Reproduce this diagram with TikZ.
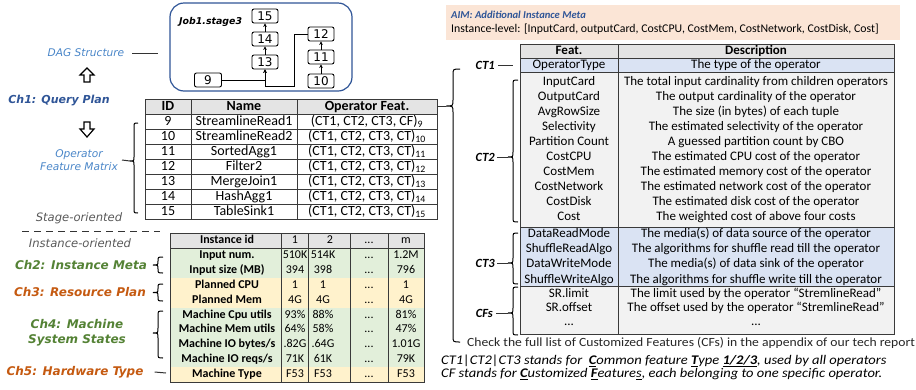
\documentclass[tikz,border=0pt]{standalone}
\usepackage{fontspec}
\setmainfont{Carlito}
\newfontfamily\dejavu{DejaVu Sans}
\usetikzlibrary{arrows.meta}
\definecolor{hdrgray}{HTML}{E4E4E4}
\definecolor{ltgray}{HTML}{F2F2F2}
\definecolor{ltblue}{HTML}{DAE3F3}
\definecolor{ltgreen}{HTML}{E2EFDA}
\definecolor{ltyellow}{HTML}{FFF2CC}
\definecolor{peach}{HTML}{FBE5D6}
\definecolor{dkblue}{HTML}{2F5597}
\definecolor{mdblue}{HTML}{4A86C8}
\definecolor{dkgreen}{HTML}{548235}
\definecolor{dkorange}{HTML}{C55A11}
\definecolor{midgray}{HTML}{595959}
\definecolor{gridc}{HTML}{3A3A3A}
\newcommand\mybrace[6]{% xv, ytop, ytip, ybot, h, r
  \draw[bracepen] (#1+#5,#2) .. controls (#1,#2) .. (#1,#2+#6) -- (#1,#3-#6)
    .. controls (#1,#3) .. (#1-#5,#3) .. controls (#1,#3) .. (#1,#3+#6)
    -- (#1,#4-#6) .. controls (#1,#4) .. (#1+#5,#4);}
\newcommand\instrow[5]{%
  \pgfmathsetmacro\yc{248+14.9*#1+7.45}
  \node[ilbl] (il#1) at (227,\yc) {#2};
  \node[ival] (ia#1) at (295,\yc) {#3};
  \node[ival] (ib#1) at (323,\yc) {#4};
  \node[ival] (ic#1) at (369,\yc) {...};
  \node[ival] (id#1) at (406,\yc) {#5};}
\tikzset{
  every node/.style={inner sep=0pt},
  chlbl/.style={font=\dejavu\bfseries\itshape\fontsize{12}{15}\selectfont, align=center},
  bluelbl/.style={font=\dejavu\itshape\fontsize{10.6}{13}\selectfont, text=mdblue, align=center},
  graylbl/.style={font=\dejavu\itshape\fontsize{11.6}{13}\selectfont, text=midgray},
  optxt/.style={font=\fontsize{14}{15}\selectfont, text height=9.5pt, text depth=2.5pt},
  ophdr/.style={font=\bfseries\fontsize{14}{15}\selectfont, text height=9.5pt, text depth=2.5pt},
  ftxt/.style={font=\fontsize{13}{14}\selectfont, text height=9pt, text depth=2.5pt},
  fhdr/.style={font=\bfseries\fontsize{13}{14}\selectfont, text height=9pt, text depth=2.5pt},
  ilbl/.style={font=\bfseries\fontsize{12}{13}\selectfont, text height=8.5pt, text depth=2.5pt},
  ival/.style={font=\fontsize{12}{13}\selectfont, text height=8.5pt, text depth=2.5pt},
  ctlbl/.style={font=\bfseries\itshape\fontsize{12.5}{14}\selectfont, anchor=east},
  btxt/.style={font=\itshape\fontsize{13.2}{14}\selectfont, anchor=west},
  grid/.style={draw=gridc, line width=0.7pt},
  bracepen/.style={line width=1pt, black},
  conn/.style={line width=1pt, black!80},
  dagnode/.style={draw, rounded corners=2pt, minimum width=26pt, minimum height=14pt,
     line width=0.9pt, font=\dejavu\fontsize{12}{12}\selectfont},
  dagedge/.style={-{Stealth[length=3.5pt,width=3.5pt]}, line width=0.5pt},
  hollow/.style={draw, line width=1.2pt, fill=white},
}
\begin{document}
\begin{tikzpicture}[x=1pt,y=-1pt]
\useasboundingbox (0,0) rectangle (916,389);

% ---------------- DAG ----------------
\draw[dkblue, line width=1.2pt, rounded corners=14pt] (170,3) rectangle (352,91);
\node[font=\dejavu\bfseries\itshape\fontsize{9.4}{10}\selectfont, anchor=west] (job) at (179,22) {Job1.stage3};
\node[dagnode] (n15) at (265,16) {15};
\node[dagnode] (n14) at (265,39) {14};
\node[dagnode] (n13) at (265,62) {13};
\node[dagnode, minimum width=27pt] (n9) at (208,80) {9};
\node[dagnode] (n12) at (321,34) {12};
\node[dagnode] (n11) at (321,57) {11};
\node[dagnode] (n10) at (321,81) {10};
\draw[dagedge] (n14) -- (n15);
\draw[dagedge] (n13) -- (n14);
\draw[dagedge] (n11) -- (n12);
\draw[dagedge] (n10) -- (n11);
\coordinate (bend) at (294,86);
\draw[dagedge] (n9.east) -| (n13.south);
\draw[dagedge] (n12.west) -| (bend) -| (n13.south);

% ---------------- left labels ----------------
\node[bluelbl] (dagl) at (86,53) {DAG Structure};
\coordinate (dagc) at (158,53);
\draw[conn] ([xshift=8pt]dagl.east) -- (dagc);
\draw[hollow] (87,68) -- (94,75) -- (90,75) -- (90,82) -- (84,82) -- (84,75) -- (80,75) -- cycle;
\node[chlbl, font=\dejavu\bfseries\itshape\fontsize{11}{13}\selectfont, text=dkblue] (ch1) at (59,101) {Ch1: Query Plan};
\draw[hollow] (84,122) -- (90,122) -- (90,129) -- (94,129) -- (87,137) -- (80,129) -- (84,129) -- cycle;
\node[bluelbl] (opm) at (79,160) {Operator\\Feature Matrix};
\coordinate (optip) at (130,161);
\draw[conn] ([xshift=4pt]opm.east) -- (optip);
\mybrace{134}{123}{161}{213}{4}{4}
\node[graylbl] (stage) at (79,218) {Stage-oriented};
\draw[line width=1pt, dash pattern=on 7pt off 5pt, black!80] (22,231) -- (160,231);
\node[graylbl] (inst) at (80,243) {Instance-oriented};

\node[chlbl, text=dkgreen] (ch2) at (81,265) {Ch2: Instance Meta};
\node[chlbl, text=dkorange] (ch3) at (80,292) {Ch3: Resource Plan};
\node[chlbl, text=dkgreen] (ch4) at (77,333) {Ch4: Machine\\System States};
\node[chlbl, text=dkorange] (ch5) at (75,372) {Ch5: Hardware Type};
\mybrace{158}{257}{265}{273}{5}{4}
\mybrace{158}{284}{292.5}{301}{5}{4}
\mybrace{158}{311}{333}{358}{5}{5}
\coordinate (ch5e) at (166,373);
\draw[conn] ([xshift=11pt]ch5.east) -- (ch5e);

% ---------------- operator table ----------------
\fill[hdrgray] (145,99) rectangle (437,114);
\foreach \y in {114,129,...,204} \draw[grid] (145,\y) -- (437,\y);
\foreach \x in {191,297} \draw[grid] (\x,99) -- (\x,219);
\draw[grid] (145,99) rectangle (437,219);
\node[ophdr] (hid) at (168,106.5) {ID};
\node[ophdr] (hname) at (244,106.5) {Name};
\node[ophdr] (hfeat) at (367,106.5) {Operator Feat.};
\foreach \id/\nm/\last [count=\i from 0] in {9/StreamlineRead1/CF,10/StreamlineRead2/CT,11/SortedAgg1/CT,12/Filter2/CT,13/MergeJoin1/CT,14/HashAgg1/CT,15/TableSink1/CT}{
  \pgfmathsetmacro\yc{121.5+15*\i}
  \node[optxt] (opid\id) at (168,\yc) {\id};
  \node[optxt] (opnm\id) at (244,\yc) {\nm};
  \node[optxt] (opft\id) at (367,\yc) {(CT1, CT2, CT3, \last)\textsubscript{\id}};
}
\coordinate (optr) at (437,106);
\coordinate (bigtip) at (446,106);
\draw[conn] (optr) -- (bigtip);
\mybrace{453}{69}{106}{342}{7}{6}

% ---------------- instance table ----------------
\fill[hdrgray] (170,233) rectangle (424,248);
\fill[ltgreen] (170,248) rectangle (424,277.8);
\fill[ltyellow] (170,277.8) rectangle (424,307.6);
\fill[ltgreen] (170,307.6) rectangle (424,367.2);
\fill[ltyellow] (170,367.2) rectangle (424,382.1);
\draw[grid] (170,248) -- (424,248);
\foreach \x in {281,308,350,388} \draw[grid] (\x,233) -- (\x,382.1);
\draw[grid] (170,233) rectangle (424,382.1);
\node[ilbl] (ihl) at (227,240.5) {Instance id};
\node[ival] (ih1) at (295,240.5) {1};
\node[ival] (ih2) at (330,240.5) {2};
\node[ival] (ih3) at (369,240.5) {...};
\node[ival] (ih4) at (406,240.5) {m};
\instrow{0}{Input num.}{510K}{514K}{1.2M}
\instrow{1}{Input size (MB)}{394}{398}{796}
\instrow{2}{Planned CPU}{1}{1}{1}
\instrow{3}{Planned Mem}{4G}{4G}{4G}
\instrow{4}{Machine Cpu utils}{93\%}{88\%}{81\%}
\instrow{5}{Machine Mem utils}{64\%}{58\%}{47\%}
\instrow{6}{Machine IO bytes/s}{.82G}{.64G}{1.01G}
\instrow{7}{Machine IO reqs/s}{71K}{61K}{79K}
\instrow{8}{Machine Type}{F53}{F53}{F53}

% ---------------- AIM box ----------------
\fill[peach] (446,5) rectangle (900,40);
\node[anchor=west, font=\bfseries\itshape\fontsize{10.6}{12}\selectfont, text=dkblue] (aim) at (451,15) {AIM: Additional Instance Meta};
\node[anchor=west, font=\fontsize{11.8}{13}\selectfont] (aiml) at (451,29.5) {Instance-level: [InputCard, outputCard, CostCPU, CostMem, CostNetwork, CostDisk, Cost]};

% ---------------- feature table ----------------
\fill[hdrgray] (520,44) rectangle (894,58);
\fill[ltblue] (520,58) rectangle (894,72);
\fill[ltgray] (520,72) rectangle (894,227);
\fill[ltblue] (520,227) rectangle (894,286);
\fill[ltgray] (520,286) rectangle (894,334);
\foreach \y in {58,72,227,286} \draw[grid] (520,\y) -- (894,\y);
\draw[grid] (618,44) -- (618,334);
\draw[grid] (520,44) rectangle (894,334);
\node[fhdr] (fh1) at (569,51) {Feat.};
\node[fhdr] (fh2) at (756,51) {Description};
\node[ftxt] (fop) at (569,65) {OperatorType};
\node[ftxt] (dop) at (756,65) {The type of the operator};
\foreach \f/\d [count=\i from 0] in {InputCard/The total input cardinality from children operators,
  OutputCard/The output cardinality of the operator,
  AvgRowSize/The size (in bytes) of each tuple,
  Selectivity/The estimated selectivity of the operator,
  Partition Count/A guessed partition count by CBO,
  CostCPU/The estimated CPU cost of the operator,
  CostMem/The estimated memory cost of the operator,
  CostNetwork/The estimated network cost of the operator,
  CostDisk/The estimated disk cost of the operator,
  Cost/The weighted cost of above four costs}{
  \pgfmathsetmacro\yc{82+15*\i}
  \node[ftxt] (fa\i) at (569,\yc) {\f};
  \node[ftxt] (da\i) at (756,\yc) {\d};
}
\foreach \f/\d [count=\i from 0] in {DataReadMode/The media(s) of data source of the operator,
  ShuffleReadAlgo/The algorithms for shuffle read till the operator,
  DataWriteMode/The media(s) of data sink of the operator,
  ShuffleWriteAlgo/The algorithms for shuffle write till the operator}{
  \pgfmathsetmacro\yc{234+15.3*\i}
  \node[ftxt] (fb\i) at (569,\yc) {\f};
  \node[ftxt] (db\i) at (756,\yc) {\d};
}
\node[ftxt] (fc0) at (569,294) {SR.limit};
\node[ftxt] (dc0) at (756,294) {The limit used by the operator “StremlineRead”};
\node[ftxt] (fc1) at (569,308) {SR.offset};
\node[ftxt] (dc1) at (756,308) {The offset used by the operator “StremlineRead”};
\node[ftxt] (fc2) at (569,322) {...};
\node[ftxt] (dc2) at (756,322) {...};

% CT labels and braces
\node[ctlbl] (ct1) at (495,65) {CT1};
\coordinate (ct1e) at (513,65);
\draw[conn] ([xshift=3pt]ct1.east) -- (ct1e);
\node[ctlbl] (ct2) at (495,157) {CT2};
\coordinate (ct2t) at (508,157);
\draw[conn] ([xshift=2pt]ct2.east) -- (ct2t);
\mybrace{513}{80}{157}{222}{5}{5}
\node[ctlbl] (ct3) at (495,263) {CT3};
\coordinate (ct3t) at (508,263);
\draw[conn] ([xshift=2pt]ct3.east) -- (ct3t);
\mybrace{513}{233}{263}{284}{5}{5}
\node[ctlbl] (cfs) at (493,313) {CFs};
\coordinate (cfst) at (508,313);
\draw[conn] ([xshift=3pt]cfs.east) -- (cfst);
\mybrace{513}{287}{313}{335}{5}{5}

% ---------------- bottom notes ----------------
\node[anchor=west, font=\fontsize{12.5}{14}\selectfont, text=black!85] (check) at (467,343) {\scalebox{1.09}[1]{Check the full list of Customized Features (CFs) in the appendix of our tech report}};
\node[btxt] (note1) at (441,361) {\scalebox{1.1}[1]{CT1|CT2|CT3 stands for\ \ \underline{\textbf{C}}ommon feature \underline{\textbf{T}}ype \underline{\textbf{1/2/3}}, used by all operators}};
\node[btxt] (note2) at (441,374) {\scalebox{1.1}[1]{CF stands for \underline{\textbf{C}}ustomized \underline{\textbf{F}}eature\underline{s}, each belonging to one specific operator.}};
\end{tikzpicture}
\end{document}
